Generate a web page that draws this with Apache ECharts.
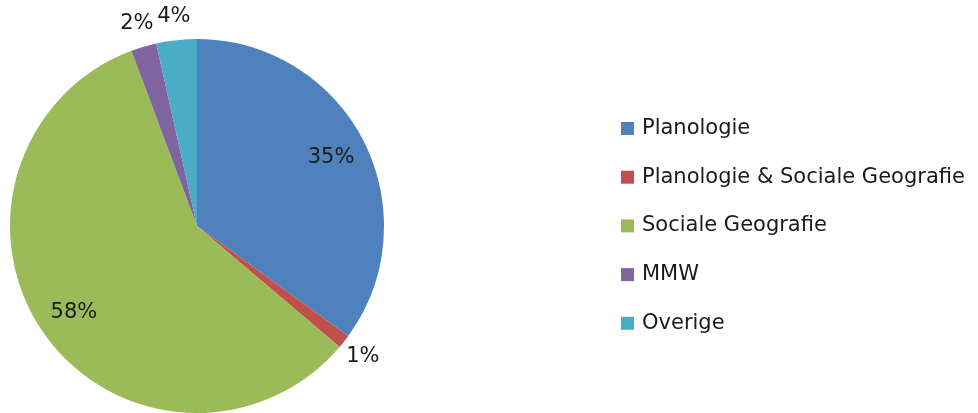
<!DOCTYPE html>
<html>
<head>
<meta charset="utf-8">
<script src="https://cdn.jsdelivr.net/npm/echarts@6/dist/echarts.min.js"></script>
<style>
html,body{margin:0;padding:0;background:#fff;}
#chart{width:978px;height:413px;}
</style>
</head>
<body>
<div id="chart"></div>
<script>
var categories = ['Planologie', 'Planologie & Sociale Geografie', 'Sociale Geografie', 'MMW', 'Overige'];
var values = [35.0, 1.2, 58.1, 2.2, 3.5];
var colors = ['#4F81BD', '#C0504D', '#9BBB59', '#8064A2', '#4BACC6'];

var FONT = 'DejaVu Sans';
var total = values.reduce(function (a, b) { return a + b; }, 0);
function isLarge(v) { return v / total >= 0.1; }

var mainData = categories.map(function (c, i) { return { name: c, value: values[i] }; });
var innerLabelData = categories.map(function (c, i) {
  return { name: c, value: values[i], label: { show: isLarge(values[i]) } };
});
var outerLabelData = categories.map(function (c, i) {
  return { name: c, value: values[i], label: { show: !isLarge(values[i]) } };
});

var labelStyle = {
  position: 'inside',
  formatter: '{d}%',
  color: '#1a1a1a',
  fontFamily: FONT,
  fontSize: 21
};

var center = [197, 226];
var chart = echarts.init(document.getElementById('chart'), null, { renderer: 'canvas' });
chart.setOption({
  animation: false,
  color: colors,
  legend: {
    orient: 'vertical',
    left: 621,
    top: 118,
    padding: 0,
    itemWidth: 13,
    itemHeight: 13,
    itemGap: 27.7,
    icon: 'rect',
    selectedMode: false,
    data: categories,
    textStyle: { fontFamily: FONT, fontSize: 21, color: '#1a1a1a', lineHeight: 21, padding: [0, 0, 0, 3] }
  },
  series: [
    {
      type: 'pie',
      center: center,
      radius: [0, 187],
      startAngle: 90,
      clockwise: true,
      silent: true,
      percentPrecision: 0,
      label: { show: false },
      labelLine: { show: false },
      itemStyle: { borderWidth: 0 },
      data: mainData
    },
    {
      type: 'pie',
      center: center,
      radius: [108, 187],
      startAngle: 90,
      clockwise: true,
      silent: true,
      percentPrecision: 0,
      itemStyle: { color: 'transparent', borderWidth: 0 },
      label: labelStyle,
      labelLine: { show: false },
      data: innerLabelData
    },
    {
      type: 'pie',
      center: center,
      radius: [186, 230],
      startAngle: 90,
      clockwise: true,
      silent: true,
      percentPrecision: 0,
      itemStyle: { color: 'transparent', borderWidth: 0 },
      label: labelStyle,
      labelLine: { show: false },
      data: outerLabelData
    }
  ]
});
</script>
</body>
</html>
